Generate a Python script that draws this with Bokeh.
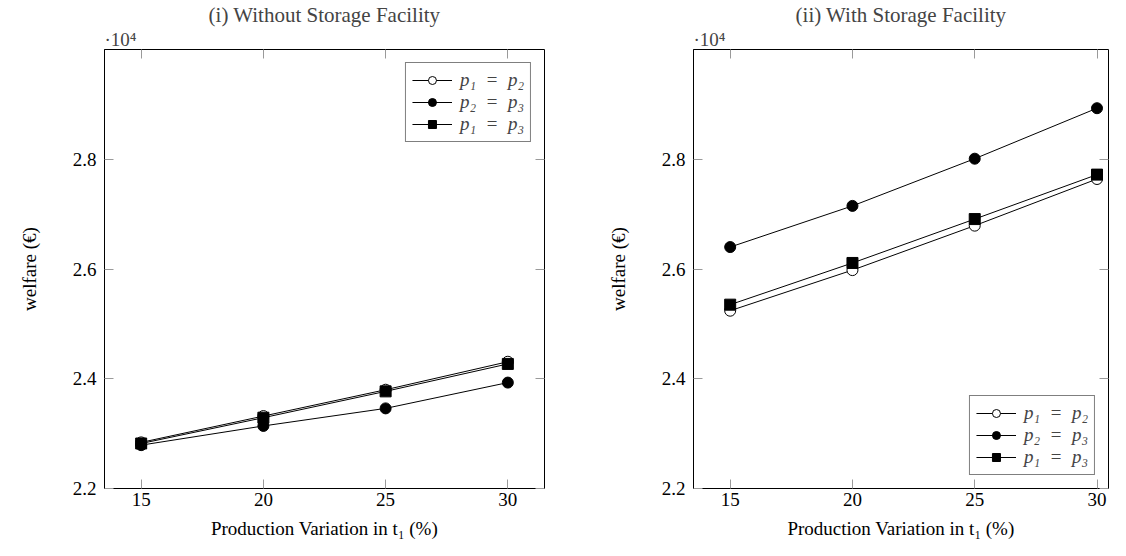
from bokeh.plotting import figure
from bokeh.layouts import row
from bokeh.models import (Range1d, FixedTicker, LinearAxis, Title, Legend,
                          LegendItem, CustomJSTickFormatter)
from bokeh.embed import file_html
from bokeh.resources import INLINE

# ---------------- data ----------------
x_prod = [15, 20, 25, 30]            # production variation in t1 (%)
x_ticks = [15, 20, 25, 30]
y_ticks = [2.2, 2.4, 2.6, 2.8]       # welfare, in units of 10^4 EUR
series_labels = ["p₁\u2002=\u2002p₂", "p₂\u2002=\u2002p₃", "p₁\u2002=\u2002p₃"]

# (i) Without storage facility (x 10^4)
without_p1p2 = [2.284, 2.332, 2.380, 2.431]
without_p2p3 = [2.279, 2.314, 2.346, 2.393]
without_p1p3 = [2.282, 2.329, 2.377, 2.427]

# (ii) With storage facility (x 10^4)
with_p1p2 = [2.524, 2.598, 2.679, 2.764]
with_p2p3 = [2.640, 2.715, 2.801, 2.893]
with_p1p3 = [2.535, 2.611, 2.691, 2.772]

FONT = "Liberation Serif"
TICK_GRAY = "#9a9a9a"

markers = [
    dict(marker="circle", fill_color="white"),
    dict(marker="circle", fill_color="black"),
    dict(marker="square", fill_color="black"),
]


def hidden_axis(ticks):
    ax = LinearAxis(ticker=FixedTicker(ticks=ticks),
                    formatter=CustomJSTickFormatter(code="return ''"),
                    major_tick_in=9, major_tick_out=0,
                    major_tick_line_color=TICK_GRAY,
                    minor_tick_line_color=None, axis_line_color=None,
                    major_label_standoff=0, major_label_text_font_size="1px")
    return ax


def make_fig(title, series, legend_loc, frame_width, x_end, min_left, min_right):
    p = figure(frame_width=frame_width, frame_height=439,
               x_range=Range1d(13.5, x_end), y_range=Range1d(2.2, 3.0),
               output_backend="svg", toolbar_location=None, title=None,
               min_border_left=min_left, min_border_right=min_right,
               min_border_top=40, min_border_bottom=61,
               background_fill_color="white", border_fill_color="white")
    p.grid.visible = False
    p.outline_line_color = "black"
    p.outline_line_width = 1

    for ax, ticks in ((p.xaxis[0], x_ticks), (p.yaxis[0], y_ticks)):
        ax.ticker = FixedTicker(ticks=ticks)
        ax.major_tick_in = 9
        ax.major_tick_out = 0
        ax.major_tick_line_color = TICK_GRAY
        ax.minor_tick_line_color = None
        ax.axis_line_color = "black"
        ax.major_label_text_font = FONT
        ax.major_label_text_font_size = "19px"
        ax.major_label_text_color = "black"
        ax.axis_label_text_font = FONT
        ax.axis_label_text_font_size = "19px"
        ax.axis_label_text_font_style = "normal"
        ax.axis_label_text_color = "black"

    p.xaxis[0].axis_label = "Production Variation in t₁ (%)"
    p.xaxis[0].major_label_standoff = 4
    p.xaxis[0].axis_label_standoff = 9
    p.yaxis[0].axis_label = "welfare (€)"
    p.yaxis[0].major_label_standoff = 8
    p.yaxis[0].axis_label_standoff = 30

    p.add_layout(hidden_axis(x_ticks), "above")
    p.add_layout(hidden_axis(y_ticks), "right")

    p.add_layout(Title(text="·10⁴", align="left", text_font=FONT,
                       text_font_size="19px", text_font_style="normal",
                       standoff=0), "above")
    p.add_layout(Title(text=title, align="center", text_font=FONT,
                       text_font_size="21px", text_font_style="normal",
                       standoff=0), "above")

    items = []
    for ys, lbl, mk in zip(series, series_labels, markers):
        lr = p.line(x_prod, ys, line_color="black", line_width=1)
        sr = p.scatter(x_prod, ys, size=11, line_color="black",
                       line_width=1, **mk)
        items.append(LegendItem(label=lbl, renderers=[lr, sr]))

    legend = Legend(items=items, location=legend_loc, margin=13,
                    border_line_color="black", border_line_width=1,
                    background_fill_color="white", background_fill_alpha=1,
                    label_text_font=FONT, label_text_font_size="19px",
                    label_text_font_style="italic",
                    glyph_width=40, glyph_height=20, label_height=20,
                    label_standoff=8, spacing=0, padding=6)
    p.add_layout(legend, "center")
    return p


p1 = make_fig("(i) Without Storage Facility",
              [without_p1p2, without_p2p3, without_p1p3],
              "top_right", 440, 31.5, 104, 20)
p2 = make_fig("(ii) With Storage Facility",
              [with_p1p2, with_p2p3, with_p1p3],
              "bottom_right", 415, 30.47, 129, 2)

layout = row(p1, p2)
open("out.html", "w").write(file_html(layout, INLINE))
